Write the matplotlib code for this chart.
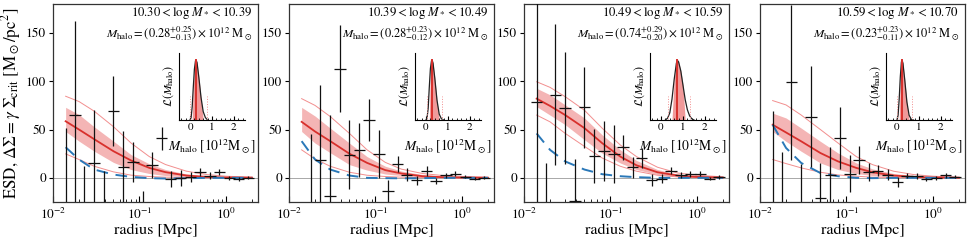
import numpy as np
import matplotlib
matplotlib.use('Agg')
import matplotlib.pyplot as plt

plt.rcParams['font.family'] = ['STIXGeneral', 'DejaVu Serif']
plt.rcParams['mathtext.fontset'] = 'stix'

# ---------------- data ----------------
radius = [0.014, 0.018, 0.023, 0.030, 0.039, 0.050, 0.065, 0.084, 0.11, 0.14,
          0.18, 0.23, 0.30, 0.39, 0.50, 0.65, 0.84, 1.1, 1.4, 1.8]

esd_1 = [-30, 65, -35, 15, -30, 69, 11, 16.5, -30, 13, 41, -1, 0, 1, 6, 2.4, 6, 0, -1, 0]
err_1 = [82, 97, 47, 55, 37, 36, 38, 21, 16, 13.5, 12, 8, 8, 5.5, 4.5, 3.5, 3, 2, 2, 1.5]
esd_2 = [np.nan, -30, 19, -19, 113, 24, 28.5, 60, 25, -14, 14.5, 3.4, -2.4, 7, -3.4, 2.7, 4.5, 1.4, -0.7, 0]
err_2 = [np.nan, 75, 77, 84, 45, 36, 28, 22, 25, 12, 8, 6.5, 4.5, 5, 3, 2.5, 2.5, 2, 1.5, 1.5]
esd_3 = [79, -40, 86, 72, -24, 73, 23, 27.5, 25, 31.6, 11, 20.6, -2, -1, 7.5, 3, 3.8, 4.5, -0.7, 1]
err_3 = [115, 55, 73, 58, 44, 42, 28, 31, 30, 13, 11, 10, 6, 4.5, 3.5, 3, 3, 3, 2, 2]
esd_4 = [-30, -30, 99, -40, 63.5, -21, 3.4, 41, 4.5, 18.5, 6, 7.5, 3.4, -4.5, 2.4, 1.7, -1.7, 0, 2.7, 1]
err_4 = [99, 57, 80, 54, 52, 36, 29, 32, 19, 14, 9, 6, 6, 5, 3, 3, 2, 2, 2.5, 1.5]

r_model = [0.014, 0.02, 0.03, 0.05, 0.08, 0.13, 0.2, 0.35, 0.6, 1.0, 2.0]

med_1 = [58.6, 50, 40, 27.6, 18, 10.3, 5.9, 2.4, 1.0, 0.4, 0.2]
bhi_1 = [73, 65.5, 52.8, 38, 24, 14.5, 8.6, 4.0, 1.7, 0.7, 0.3]
blo_1 = [48, 38, 27.6, 16, 8.6, 4.5, 2.4, 1.0, 0.4, 0.2, 0.1]
thi_1 = [84.5, 79, 69, 53, 36, 22, 13.8, 6.9, 3.4, 1.7, 0.7]
tlo_1 = [24.8, 19, 12, 6.2, 2.8, 1.4, 0.7, 0.3, 0.1, 0.05, 0.0]
blue_1 = [31.7, 19, 8.6, 3.4, 1.0, -0.3, -0.7, -0.4, 0.0, 0.0, 0.0]

med_2 = [58, 48, 38, 25, 15.5, 8, 4.5, 1.7, 0.7, 0.3, 0.1]
bhi_2 = [73, 64, 51.5, 36, 22, 12, 7, 3.4, 1.7, 0.7, 0.3]
blo_2 = [48, 36, 26, 13.7, 8, 4, 2.4, 1.0, 0.3, 0.1, 0.0]
thi_2 = [82, 75, 63.5, 46, 29, 16, 9, 4.5, 2.4, 1.4, 0.7]
tlo_2 = [29, 19.6, 12, 5.8, 2.7, 1.4, 0.7, 0.3, 0.1, 0.0, 0.0]
blue_2 = [38, 19, 8.6, 2.4, 0.0, -0.3, -0.5, -0.3, 0.0, 0.0, 0.0]

med_3 = [82, 74.5, 65, 51.5, 36, 22, 13, 5.8, 2.4, 1.0, 0.3]
bhi_3 = [92.7, 86, 75.5, 62, 44.6, 29, 18, 8.6, 3.8, 1.7, 0.7]
blo_3 = [73.8, 65, 55, 39.5, 25.7, 15.4, 8.6, 3.4, 1.4, 0.5, 0.1]
thi_3 = [99.5, 93.7, 84, 70, 51.5, 34, 22, 11, 5, 2.7, 1.0]
tlo_3 = [65, 58, 46, 32.6, 20.6, 12, 6.9, 2.7, 1.0, 0.3, 0.0]
blue_3 = [46, 29, 17, 8.6, 3.8, 1.7, 0.7, 0.0, 0.0, 0.0, 0.0]

med_4 = [55, 47, 37.8, 25.7, 17, 10.3, 5.8, 2.4, 1.0, 0.4, 0.1]
bhi_4 = [67, 62, 51.5, 37.8, 25.7, 15.4, 9.3, 4.5, 2.4, 1.0, 0.3]
blo_4 = [48, 37.8, 27.5, 15.4, 8.6, 4.5, 2.4, 1.0, 0.3, 0.1, 0.0]
thi_4 = [80, 75.5, 65, 50, 36, 22, 13.7, 6.9, 3.4, 1.7, 0.7]
tlo_4 = [19, 14.8, 10.3, 5.8, 3.0, 1.7, 0.7, 0.3, 0.1, 0.0, 0.0]
blue_4 = [55, 31, 15.4, 5, 1.7, 0.0, -0.3, 0.0, 0.0, 0.0, 0.0]

mstar_lo = ["10.30", "10.39", "10.49", "10.59"]
mstar_hi = ["10.39", "10.49", "10.59", "10.70"]
mhalo = [0.28, 0.28, 0.74, 0.23]
mhalo_up = [0.25, 0.23, 0.29, 0.23]
mhalo_dn = [0.13, 0.12, 0.20, 0.11]
mhalo_str = ["0.28", "0.28", "0.74", "0.23"]
up_str = ["0.25", "0.23", "0.29", "0.23"]
dn_str = ["0.13", "0.12", "0.20", "0.11"]

like_m_1 = [0.0, 0.05, 0.1, 0.15, 0.2, 0.25, 0.28, 0.32, 0.4, 0.5, 0.6, 0.7, 0.8]
like_l_1 = [0.0, 0.04, 0.22, 0.55, 0.85, 0.99, 1.0, 0.96, 0.72, 0.38, 0.14, 0.04, 0.0]
like_m_2 = [0.0, 0.05, 0.1, 0.15, 0.2, 0.25, 0.28, 0.32, 0.4, 0.5, 0.6, 0.7, 0.8]
like_l_2 = [0.0, 0.04, 0.2, 0.55, 0.86, 0.99, 1.0, 0.95, 0.7, 0.33, 0.1, 0.02, 0.0]
like_m_3 = [0.2, 0.3, 0.4, 0.5, 0.6, 0.7, 0.74, 0.8, 0.9, 1.0, 1.1, 1.2, 1.3, 1.4, 1.5]
like_l_3 = [0.0, 0.03, 0.12, 0.35, 0.68, 0.95, 1.0, 0.97, 0.82, 0.58, 0.34, 0.17, 0.07, 0.02, 0.0]
like_m_4 = [0.0, 0.05, 0.1, 0.15, 0.2, 0.23, 0.27, 0.35, 0.45, 0.55, 0.65, 0.75]
like_l_4 = [0.0, 0.08, 0.35, 0.72, 0.97, 1.0, 0.95, 0.68, 0.3, 0.08, 0.01, 0.0]

esd = [esd_1, esd_2, esd_3, esd_4]
err = [err_1, err_2, err_3, err_4]
med = [med_1, med_2, med_3, med_4]
bhi = [bhi_1, bhi_2, bhi_3, bhi_4]
blo = [blo_1, blo_2, blo_3, blo_4]
thi = [thi_1, thi_2, thi_3, thi_4]
tlo = [tlo_1, tlo_2, tlo_3, tlo_4]
blue = [blue_1, blue_2, blue_3, blue_4]
like_m = [like_m_1, like_m_2, like_m_3, like_m_4]
like_l = [like_l_1, like_l_2, like_l_3, like_l_4]

# ---------------- figure ----------------
W, H = 970, 243
fig = plt.figure(figsize=(W / 100, H / 100), dpi=100)
renderer = fig.canvas.get_renderer()


def px_axes(left, top, width, height):
    return fig.add_axes([left / W, 1 - (top + height) / H, width / W, height / H])


def fit_text(t, target, vertical=False):
    for _ in range(3):
        bb = t.get_window_extent(renderer)
        size = bb.height if vertical else bb.width
        if size > 0:
            t.set_fontsize(t.get_fontsize() * target / size)


lefts = [53, 289, 524, 760]
pw, ptop, ph = 205, 4, 198

r = np.array(radius)
dlog = np.mean(np.diff(np.log10(r)))
hw = 10 ** (0.6 * dlog)
xerr = [r - r / hw, r * hw - r]

RED = '#d8302c'
BAND = '#f4b5b5'
THIN = '#f28e8e'
BLUE = '#2a78b8'

for i in range(4):
    ax = px_axes(lefts[i], ptop, pw, ph)
    ax.set_xscale('log')
    ax.set_xlim(0.01, 2.35)
    ax.set_ylim(-25, 180)
    ax.axhline(0, color='#9a9a9a', lw=0.6, zorder=1)
    ax.fill_between(r_model, blo[i], bhi[i], color=BAND, lw=0, zorder=2)
    ax.plot(r_model, thi[i], color=THIN, lw=0.7, zorder=3)
    ax.plot(r_model, tlo[i], color=THIN, lw=0.7, zorder=3)
    ax.plot(r_model, med[i], color=RED, lw=1.3, zorder=4)
    ax.plot(r_model, blue[i], color=BLUE, lw=1.4, ls=(0, (6, 4)), zorder=4)
    ax.errorbar(r, esd[i], yerr=err[i], xerr=xerr, fmt='none', ecolor='#111111',
                elinewidth=0.9, capsize=0, zorder=5)
    ax.set_yticks([0, 50, 100, 150])
    ax.tick_params(axis='x', which='both', direction='in', top=False, labelsize=9.5)
    ax.tick_params(axis='x', which='major', length=4)
    ax.tick_params(axis='x', which='minor', length=2.5)
    ax.tick_params(axis='y', direction='out', length=3, labelsize=9.5, pad=2)
    for s in ax.spines.values():
        s.set_linewidth(0.9)
        s.set_color('#333333')
    xl = ax.set_xlabel('radius [Mpc]', fontsize=13, labelpad=1)
    fit_text(xl, 84)
    if i == 0:
        yl = ax.set_ylabel(r'ESD, $\Delta\Sigma=\gamma\ \Sigma_{\rm crit}$ [M$_\odot$/pc$^2$]',
                           fontsize=12, labelpad=2)
        fit_text(yl, 190, vertical=True)
    t1 = ax.text(0.971, 0.955, r'$%s<\log\,M_*<%s$' % (mstar_lo[i], mstar_hi[i]),
                 transform=ax.transAxes, ha='right', va='center', fontsize=11)
    fit_text(t1, 122)
    t2 = ax.text(0.975, 0.853,
                 r'$M_{\rm halo}=(%s^{+%s}_{-%s})\times10^{12}\ {\rm M}_\odot$'
                 % (mhalo_str[i], up_str[i], dn_str[i]),
                 transform=ax.transAxes, ha='right', va='center', fontsize=10)
    fit_text(t2, 146)

    # inset likelihood
    ins = px_axes(lefts[i] + 126, 53, 66, 67)
    ins.set_facecolor('none')
    lm = np.array(like_m[i])
    ll = np.array(like_l[i])
    lo = mhalo[i] - mhalo_dn[i]
    hi = mhalo[i] + mhalo_up[i]
    ins.fill_between(lm, 0, ll, where=(lm >= lo - 1e-9) & (lm <= hi + 1e-9),
                     color='#f09a9a', lw=0, interpolate=True)
    ins.plot(lm, ll, color='#222222', lw=0.9)
    ins.plot([mhalo[i], mhalo[i]], [0, 1.0], color=RED, lw=1.4)
    for xx in (mhalo[i] - 2 * mhalo_dn[i], mhalo[i] + 2 * mhalo_up[i]):
        ins.plot([xx, xx], [0, 0.4], color=THIN, lw=0.7, ls=':')
    ins.set_xlim(-0.5, 2.5)
    ins.set_ylim(0, 1.12)
    ins.spines['top'].set_visible(False)
    ins.spines['right'].set_visible(False)
    ins.set_yticks([])
    ins.set_xticks([0, 1, 2])
    ins.set_xticks(np.arange(-0.4, 2.5, 0.2), minor=True)
    ins.tick_params(axis='x', which='both', direction='in', labelsize=8, pad=2)
    ins.tick_params(axis='x', which='major', length=3)
    ins.tick_params(axis='x', which='minor', length=1.5)
    ixl = ins.set_xlabel(r'$M_{\rm halo}$ [10$^{12}$M$_\odot$]', fontsize=9.5, labelpad=3)
    fit_text(ixl, 88)
    iyl = ins.set_ylabel(r'$\mathcal{L}(M_{\rm halo})$', fontsize=9.5, labelpad=2)
    fit_text(iyl, 42, vertical=True)

fig.savefig('out.png', dpi=100)
